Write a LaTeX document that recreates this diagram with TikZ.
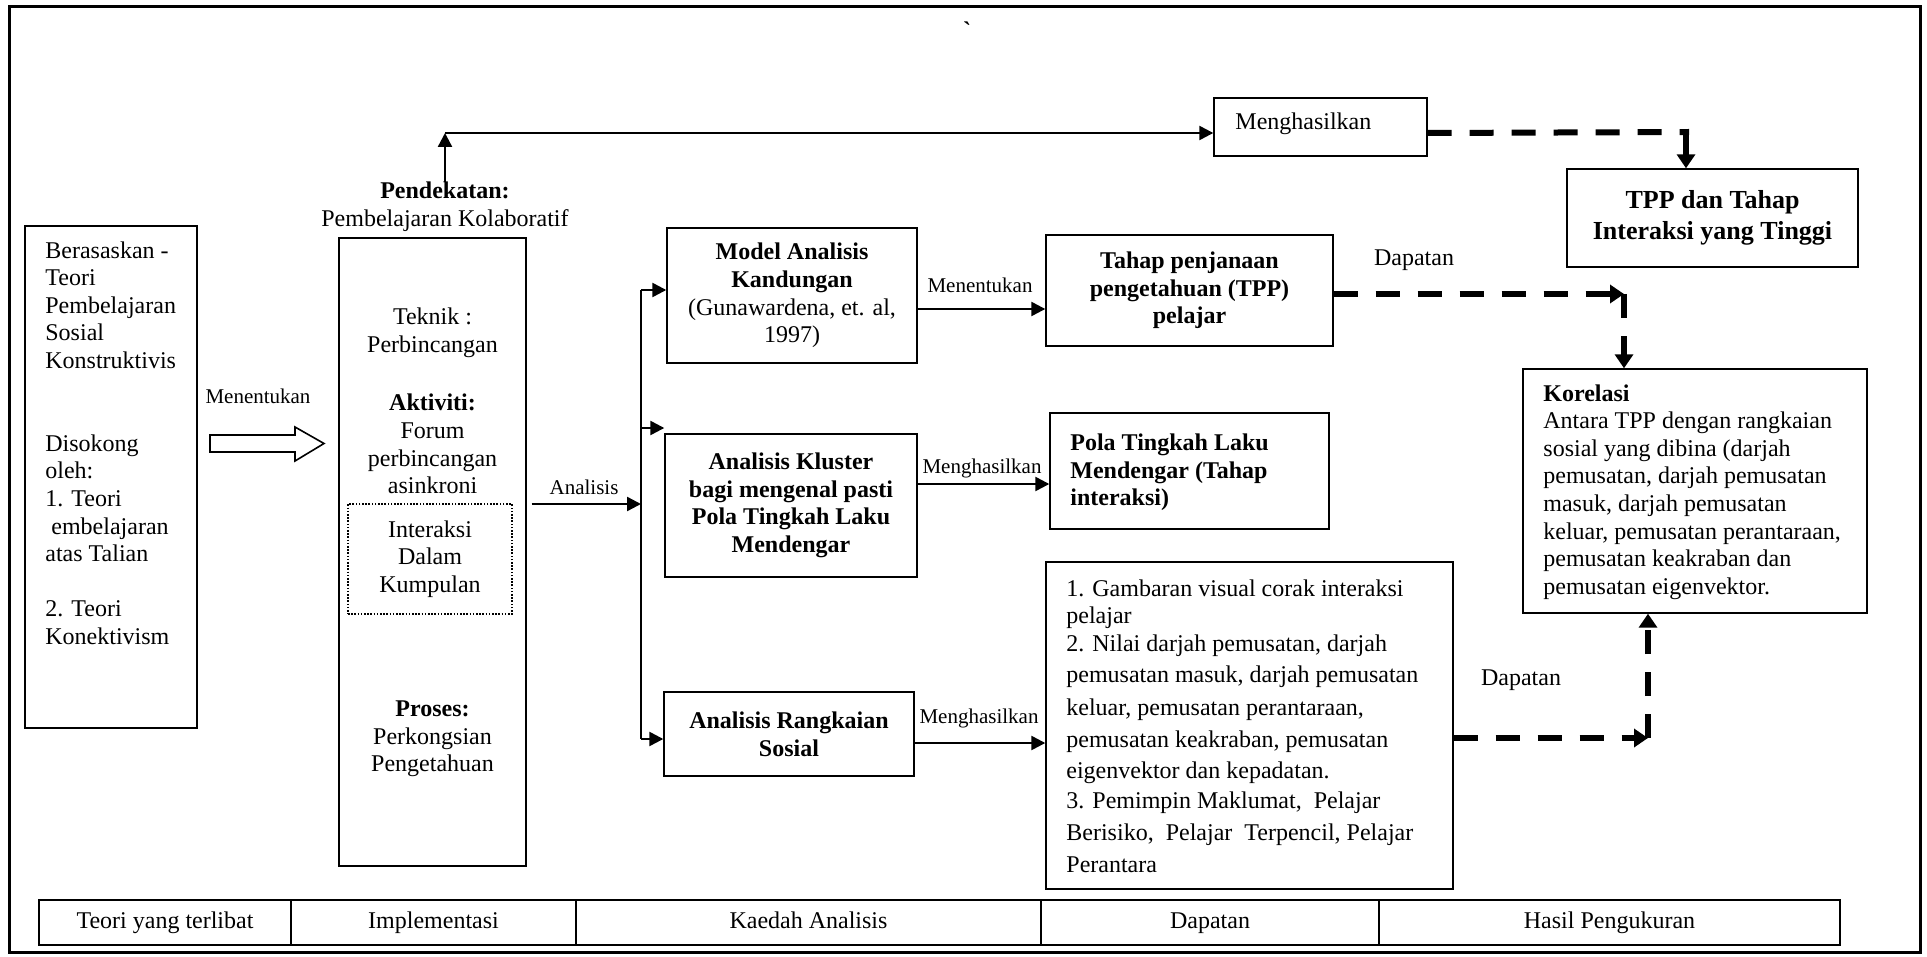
\documentclass[tikz,border=0pt]{standalone}
\usepackage{fontspec}
\setmainfont{Liberation Serif}
\newfontfamily\plainserif{Liberation Serif}
\usetikzlibrary{arrows.meta,calc}
\begin{document}
\begin{tikzpicture}[x=0.5pt,y=-0.5pt,
  every node/.style={inner sep=0pt, font=\fontsize{12}{13.8}\selectfont},
  bold/.style={font=\fontsize{12}{13.8}\selectfont\bfseries},
  box/.style={draw, line width=0.7pt, align=center},
  lab/.style={font=\fontsize{10.5}{12}\selectfont},
  arr/.style={line width=1.2pt, -{Triangle[length=7pt,width=7pt]}},
  dsh/.style={line width=3pt, dash pattern=on 12pt off 9pt},
  dsharr/.style={dsh, -{Triangle[length=7pt,width=9pt]}},
  cell/.style={draw, line width=1pt, minimum height=22.5pt, text height=8.5pt, text depth=2.5pt},
]
\useasboundingbox (0,0) rectangle (1927,957);
\draw[line width=1.5pt] (9,7) rectangle (1920,952);
\node (bt) at (967,30) {\plainserif\bfseries `};

% left column
\node[box, minimum width=86pt, minimum height=251pt] (lb) at (111,477) {};
\node[anchor=west, align=left] (lt) at (45,443) {Berasaskan -\\Teori\\Pembelajaran\\Sosial\\Konstruktivis\\[27.6pt]Disokong\\oleh:\\1. Teori\\\hspace*{3pt}embelajaran\\atas Talian\\[13.8pt]2. Teori\\Konektivism};
\node[lab] (l1) at (258,396) {Menentukan};
\draw[line width=0.8pt] (210,435) -- (295,435) -- (295,427) -- (324,443.5) -- (295,461) -- (295,452) -- (210,452) -- cycle;

% middle column
\node[align=center] (pend) at (445,207) {\textbf{Pendekatan:}\\Pembelajaran Kolaboratif};
\node[box, minimum width=93.5pt, minimum height=314pt] (mb) at (432.5,552) {};
\node[align=center] (mt1) at (432.5,333) {Teknik :\\Perbincangan};
\node[align=center] (mt2) at (432.5,444) {\textbf{Aktiviti:}\\Forum\\perbincangan\\asinkroni};
\node[box, line width=0.6pt, dash pattern=on 0.8pt off 0.8pt, minimum width=82pt, minimum height=55pt] (dot) at (430,559) {Interaksi\\Dalam\\Kumpulan};
\node[align=center] (mt3) at (432.5,739) {\textbf{Proses:}\\Perkongsian\\Pengetahuan};

% analysis boxes
\node[box, minimum width=125pt, minimum height=67.5pt] (model) at (792,295.5) {\textbf{Model Analisis}\\\textbf{Kandungan}\\(Gunawardena, et. al,\\1997)};
\node[box, bold, minimum width=126pt, minimum height=71.5pt] (klus) at (791,505.5) {Analisis Kluster\\bagi mengenal pasti\\Pola Tingkah Laku\\Mendengar};
\node[box, bold, minimum width=125pt, minimum height=42pt] (rang) at (789,734) {Analisis Rangkaian\\Sosial};

% results
\node[box, bold, minimum width=143.5pt, minimum height=55.5pt] (tahap) at (1189.5,290.5) {Tahap penjanaan\\pengetahuan (TPP)\\pelajar};
\node[box, minimum width=139.5pt, minimum height=58pt] (pola) at (1189.5,471) {};
\node[anchor=west, align=left, bold] (pt) at (1070,472.5) {Pola Tingkah Laku\\Mendengar (Tahap\\interaksi)};
\node[box, minimum width=203.5pt, minimum height=163.5pt] (res) at (1249.5,725.5) {};
\node[anchor=west, align=left] (rt) at (1066,726) {1. Gambaran visual corak interaksi\\pelajar\\2. Nilai darjah pemusatan, darjah\\[1.7pt]pemusatan masuk, darjah pemusatan\\[2.7pt]keluar, pemusatan perantaraan,\\[2.2pt]pemusatan keakraban, pemusatan\\[1.7pt]eigenvektor dan kepadatan.\\[1.2pt]3. Pemimpin Maklumat,\ \ Pelajar\\[2.2pt]Berisiko,\ \ Pelajar\ \ Terpencil, Pelajar\\[2.2pt]Perantara};

% right column
\node[box, minimum width=106.5pt, minimum height=29pt] (mengh) at (1320.5,127) {};
\node[anchor=west] (mtx) at (1235,124) {Menghasilkan};
\node[box, font=\fontsize{13}{15.5}\selectfont\bfseries, minimum width=145.5pt, minimum height=49pt] (tpp) at (1712.5,218) {TPP dan Tahap\\Interaksi yang Tinggi};
\node[box, minimum width=172pt, minimum height=122pt] (kor) at (1695,491) {};
\node[anchor=west, align=left] (kt) at (1543,492) {\textbf{Korelasi}\\Antara TPP dengan rangkaian\\sosial yang dibina (darjah\\pemusatan, darjah pemusatan\\masuk, darjah pemusatan\\keluar, pemusatan perantaraan,\\pemusatan keakraban dan\\pemusatan eigenvektor.};

% labels
\node[lab] (l2) at (584,487) {Analisis};
\node[lab] (l3) at (980,285) {Menentukan};
\node[lab] (l4) at (982,468) {Menghasilkan};
\node[lab] (l5) at (979,718) {Menghasilkan};
\node (l6) at (1414,260) {Dapatan};
\node (l7) at (1521,680) {Dapatan};

% connectors
\coordinate (c1) at (445,133);
\draw[arr] (pend.north) -- (c1);
\draw[arr] (c1) -- (c1 -| mengh.west);
\coordinate (d1) at (1686,132);
\draw[dsh] (c1 -| mengh.east) -- ([xshift=1.5pt]d1);
\draw[line width=3pt, -{Triangle[length=7pt,width=9pt]}] ([yshift=1.5pt]d1) -- (d1 |- tpp.north);

\coordinate (d2) at (1624,294);
\draw[dsharr] (tahap.east |- d2) -- (d2);
\draw[dsharr] (d2) -- (d2 |- kor.north);
\coordinate (d3) at (1648,738);
\draw[dsharr] (res.east |- d3) -- (d3);
\draw[dsharr] (d3) -- (d3 |- kor.south);

\coordinate (s1) at (641,290);
\coordinate (s2) at (641,428);
\coordinate (s0) at (641,504);
\coordinate (s3) at (641,739);
\draw[line width=1.2pt] (s1) -- (s3);
\draw[arr, shorten <=2.5pt] (mb.east |- s0) -- (s0);
\draw[arr] (s1) -- (s1 -| model.west);
\draw[arr] (s2) -- (s2 -| klus.west);
\draw[arr] (s3) -- (s3 -| rang.west);
\coordinate (h1) at (0,309);
\coordinate (h2) at (0,484);
\coordinate (h3) at (0,743);
\draw[arr] (model.east |- h1) -- (tahap.west |- h1);
\draw[arr] (klus.east |- h2) -- (pola.west |- h2);
\draw[arr] (rang.east |- h3) -- (res.west |- h3);

% bottom table
\node[cell, minimum width=126pt] (t1) at (165,922.5) {Teori yang terlibat};
\node[cell, minimum width=142.5pt] (t2) at (433.5,922.5) {Implementasi};
\node[cell, minimum width=232.5pt] (t3) at (808.5,922.5) {Kaedah Analisis};
\node[cell, minimum width=169pt] (t4) at (1210,922.5) {Dapatan};
\node[cell, minimum width=230.5pt] (t5) at (1609.5,922.5) {Hasil Pengukuran};
\end{tikzpicture}
\end{document}
